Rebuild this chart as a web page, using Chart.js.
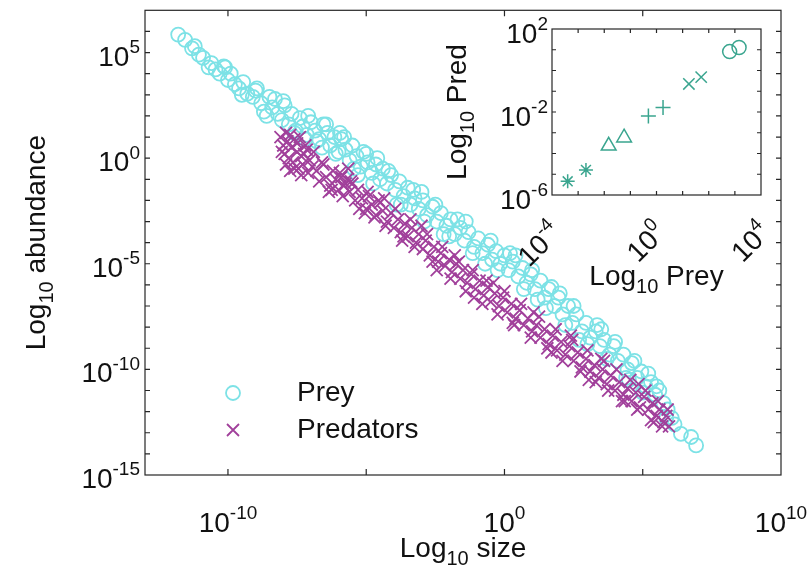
<!DOCTYPE html>
<html>
<head>
<meta charset="utf-8">
<script src="https://cdn.jsdelivr.net/npm/chart.js@4.4.1/dist/chart.umd.min.js"></script>
<style>
  body { margin: 0; background: #fff; }
  #wrap { position: relative; width: 812px; height: 573px; }
  #main { position: absolute; left: 0; top: 0; }
  #inset { position: absolute; left: 420px; top: 0; }
</style>
</head>
<body>
<div id="wrap">
  <canvas id="main" width="812" height="573"></canvas>
  <canvas id="inset" width="390" height="310"></canvas>
</div>
<script>
const FONT = '"Liberation Sans", Arial, Helvetica, sans-serif';
const AXIS = '#262626';
const PREY_COLOR = '#7de2e6';
const PRED_COLOR = '#a1409b';
const INSET_COLOR = '#3aa58f';

// main panel, log10 values
const preySizeExp = [
  -11.8, -11.55, -11.3, -11.05, -10.9, -10.6, -10.45, -10.3, -10.15, -10.0, -9.9, -9.75,
  -9.6, -9.45, -9.3, -9.1, -8.95, -8.8, -8.7, -8.5, -8.4, -8.2, -8.05, -7.95, -7.8, -7.7, -7.55,
  -7.4, -7.3, -7.15, -7.0, -6.85, -6.7, -6.55, -6.4, -6.3, -6.15, -6.0, -5.9, -5.75, -5.6, -5.5,
  -5.35, -5.2, -5.1, -4.95, -4.8, -4.65, -4.5, -4.4, -4.25, -4.1, -3.95, -3.8, -3.65, -3.5, -3.4,
  -3.25, -3.1, -2.95, -2.8, -2.6, -2.45, -2.3, -2.1, -1.95, -1.8, -1.6, -1.45, -1.3, -1.1, -0.95, -0.8, -0.6, -0.45, -0.3, -0.15,
  0.0, 0.15, 0.3, 0.5, 0.65, 0.8, 0.95, 1.1, 1.3, 1.45, 1.6, 1.8, 1.95, 2.1, 2.3, 2.45, 2.6, 2.8, 2.95, 3.1,
  3.3, 3.45, 3.6, 3.8, 3.95, 4.1, 4.3, 4.45, 4.6, 4.8, 4.95, 5.1, 5.3, 5.45, 5.6, 5.75, 5.9, 6.05,
  6.38, 6.75, 6.93,
  -8.0, -7.2, -6.6, -5.95, -5.3, -4.6, -3.9, -3.0, -2.2, -1.4, -0.7, 0.4, 1.2, 2.0, 2.7, 3.5, 4.4, 5.2,
  -11.2, -10.7, -10.1, -9.5, -9.0, -8.6, -8.3, -7.6, -7.1, -6.8, -6.45, -6.1, -5.8, -5.45, -5.0, -4.75,
  -4.2, -3.75, -3.3, -2.9, -2.5, -2.0, -1.7, -1.15, -0.5, -0.25, 0.2, 0.7, 1.0, 1.5, 1.7, 2.2, 2.5,
  3.0, 3.35, 3.7, 4.0, 4.5, 4.7, 5.0, 5.5, 5.85, 6.15
];
const preyAbundExp = [
  5.85, 5.6, 5.2, 4.9, 4.75, 4.5, 4.2, 4.0, 4.35, 3.7, 4.0, 3.5,
  3.3, 3.6, 3.05, 2.9, 3.3, 2.6, 2.2, 2.9, 2.4, 2.1, 1.8, 2.5, 1.6, 2.1, 1.3,
  1.9, 1.5, 1.1, 1.7, 1.3, 0.9, 1.6, 1.2, 0.6, 1.0, 0.3, 0.9, 0.4, -0.1, 0.6,
  0.1, -0.4, 0.3, -0.2, -0.7, -0.3, -1.0, -0.5, -1.2, -0.8, -1.5, -1.1, -1.8, -1.4, -2.2,
  -1.9, -2.4, -2.0, -2.7, -2.3, -3.0, -2.6, -3.2, -2.9, -3.6, -3.3, -3.9, -3.5, -4.2, -3.8, -4.5, -4.1, -4.8, -4.4, -5.0,
  -4.6, -5.3, -4.9, -5.6, -5.2, -5.9, -5.5, -6.2, -5.8, -6.6, -6.2, -7.0, -6.6, -7.4, -7.0, -7.8, -7.4, -8.2, -7.8, -8.5,
  -8.2, -8.9, -8.6, -9.3, -8.9, -9.6, -9.3, -10.0, -9.7, -10.4, -10.1, -10.8, -10.6, -11.2, -11.0, -11.6, -11.9, -12.3,
  -13.05, -13.2, -13.6,
  2.7, 0.9, 0.5, 1.2, -0.8, 0.0, -2.2, -1.6, -3.6, -3.0, -5.0, -4.6, -6.7, -6.4, -8.6, -8.1, -10.4, -10.2,
  5.3, 4.3, 4.3, 3.0, 3.2, 2.0, 2.8, 1.2, 2.0, 0.8, 1.6, 0.2, 1.0, -0.5, 0.2, -1.2,
  -0.6, -2.2, -1.5, -3.0, -2.2, -3.7, -2.9, -4.5, -3.9, -5.3, -4.5, -6.2, -5.3, -7.1, -6.1, -7.9, -7.0,
  -8.8, -7.9, -9.5, -8.7, -10.5, -9.6, -11.1, -10.8, -12.3, -12.6
];
const predSizeExp = [
  -8.1, -8.0, -7.95, -7.9, -7.85, -7.8, -7.7, -7.65, -7.6, -7.5, -7.45, -7.35, -7.3, -7.2, -7.1, -7.05, -6.95,
  -6.8, -6.7, -6.55, -6.45, -6.3, -6.2, -6.1, -6.0, -5.9, -5.8,
  -5.7, -5.6, -5.5, -5.4, -5.3, -5.15, -5.0, -4.9, -4.8, -4.65, -4.5, -4.4, -4.25, -4.1, -4.0, -3.85, -3.75,
  -3.6, -3.5, -3.35, -3.2, -3.1, -2.95, -2.85, -2.7, -2.55, -2.4, -2.3, -2.15, -2.0, -1.9, -1.75, -1.6, -1.5,
  -1.35, -1.2, -1.05, -0.9, -0.75, -0.6, -0.5, -0.35, -0.2, -0.05, 0.1, 0.25, 0.4, 0.55, 0.7,
  0.85, 1.0, 1.15, 1.3, 1.45, 1.6, 1.75, 1.9, 2.05, 2.2, 2.35, 2.5, 2.65, 2.8,
  2.95, 3.1, 3.25, 3.4, 3.55, 3.7, 3.85, 4.0, 4.15, 4.3, 4.45, 4.6, 4.75, 4.9,
  5.05, 5.2, 5.35, 5.5, 5.6, 5.75, 5.85, 5.95,
  -7.75, -7.4, -6.9, -6.35, -5.65, -5.05, -4.35, -3.7, -3.0, -2.45, -1.8, -1.1, -0.4, 0.3, 1.05, 1.7, 2.4, 3.05, 3.6, 4.25, 4.85, 5.4,
  -8.05, -7.9, -7.75, -7.6, -7.5, -7.35, -7.25, -7.15, -6.6, -6.25, -5.95, -5.85, -5.75, -5.55, -5.25, -4.95,
  -4.7, -4.55, -4.3, -3.95, -3.65, -3.4, -3.25, -2.8, -2.6, -2.25, -1.95, -1.65, -1.4, -1.15, -0.8, -0.65,
  -0.25, 0.0, 0.35, 0.6, 0.95, 1.25, 1.55, 1.85, 2.1, 2.45, 2.75, 3.0, 3.3, 3.5, 3.75, 4.05,
  4.35, 4.55, 4.8, 5.1, 5.3, 5.55, 5.7, 5.9
];
const predAbundExp = [
  1.0, 0.6, 0.2, 1.2, 0.8, 0.0, 0.5, -0.2, 0.9, 0.3, -0.5, 0.1, -0.3, 0.6, -0.7, -0.1, -0.4,
  -0.6, -1.1, -0.3, -0.9, -1.3, -0.6, -1.0, -1.5, -0.9, -1.3,
  -1.0, -1.6, -1.2, -2.0, -1.5, -1.9, -2.4, -1.8, -2.2, -2.7, -2.1, -2.5, -3.0, -2.6, -3.3, -2.9, -3.5,
  -3.1, -3.7, -3.3, -4.0, -3.6, -4.3, -3.9, -4.6, -4.2, -4.9, -4.5, -5.1, -4.8, -5.4, -5.0, -5.7, -5.3,
  -5.9, -5.5, -6.2, -5.8, -6.5, -6.1, -6.8, -6.4, -7.0, -6.6, -7.3, -6.9, -7.6, -7.2, -7.9,
  -7.6, -8.2, -7.9, -8.5, -8.1, -8.8, -8.4, -9.1, -8.7, -9.3, -8.9, -9.6, -9.2, -9.9,
  -9.5, -10.1, -9.8, -10.4, -10.0, -10.7, -10.3, -11.0, -10.6, -11.2, -10.9, -11.5, -11.1, -11.8,
  -11.3, -11.9, -11.6, -12.2, -11.9, -12.5, -12.2, -12.7,
  -0.6, 1.0, 0.3, -1.6, -0.5, -2.6, -1.9, -3.9, -3.2, -5.3, -4.6, -6.6, -5.9, -7.8, -7.3, -9.2, -8.4, -10.5, -9.6, -11.5, -10.7, -12.5,
  0.3, -0.3, 1.1, -0.5, 0.7, -0.8, 0.2, 0.4, -0.2, -1.5, -0.7, -1.8, -1.2, -1.1, -2.4, -1.6,
  -2.8, -2.0, -3.2, -2.4, -3.7, -2.9, -4.2, -3.6, -4.9, -4.2, -5.7, -4.9, -6.3, -5.3, -6.9, -5.8,
  -7.4, -6.3, -7.9, -6.9, -8.5, -7.5, -9.0, -8.1, -9.6, -8.6, -10.1, -9.1, -10.6, -9.5, -11.0, -10.0,
  -11.5, -10.5, -11.9, -11.0, -12.4, -11.5, -12.7, -11.9
];

// inset: five predator/prey pairs
const insetStyles = ['star', 'triangle', 'cross', 'crossRot', 'circle'];
const insetRadius = [7, 8.5, 7.5, 8, 7];
const insetPreyExp = [[-3.4, -2.7], [-1.83, -1.24], [-0.31, 0.25], [1.24, 1.71], [2.8, 3.16]];
const insetPredExp = [[-5.34, -4.79], [-3.63, -3.24], [-2.19, -1.78], [-0.65, -0.32], [0.91, 1.11]];

// tick labels (exponents of ten)
const mainXLabels = [-10, 0, 10];
const mainXTicks = [-10, -5, 0, 5];
const mainYLabels = [5, 0, -5, -10, -15];
const insetXLabels = [-4, 0, 4];
const insetYLabels = [2, -2, -6];

function toPoints(xs, ys) {
  return xs.map((e, i) => ({ x: Math.pow(10, e), y: Math.pow(10, ys[i]) }));
}

function drawPow(ctx, exp, x, y, align, size, supSize) {
  // "10" with raised exponent; y = middle of the "10"
  ctx.font = size + 'px ' + FONT;
  const wb = ctx.measureText('10').width;
  ctx.font = supSize + 'px ' + FONT;
  const we = ctx.measureText(String(exp)).width;
  const left = align === 'right' ? x - wb - we : x - (wb + we) / 2;
  const base = y + size * 0.36;
  ctx.textAlign = 'left';
  ctx.textBaseline = 'alphabetic';
  ctx.font = size + 'px ' + FONT;
  ctx.fillText('10', left, base);
  ctx.font = supSize + 'px ' + FONT;
  ctx.fillText(String(exp), left + wb, base - size * 0.45);
}

function drawSubTitle(ctx, pre, sub, post, cx, base, size, subSize) {
  ctx.font = size + 'px ' + FONT;
  const w1 = ctx.measureText(pre).width;
  const w3 = ctx.measureText(post).width;
  ctx.font = subSize + 'px ' + FONT;
  const w2 = ctx.measureText(sub).width;
  let left = cx - (w1 + w2 + w3) / 2;
  ctx.textAlign = 'left';
  ctx.textBaseline = 'alphabetic';
  ctx.font = size + 'px ' + FONT;
  ctx.fillText(pre, left, base);
  ctx.font = subSize + 'px ' + FONT;
  ctx.fillText(sub, left + w1, base + size * 0.3);
  ctx.font = size + 'px ' + FONT;
  ctx.fillText(post, left + w1 + w2, base);
}

function drawFrame(ctx, a) {
  ctx.strokeStyle = AXIS;
  ctx.lineWidth = 1.2;
  ctx.strokeRect(a.left, a.top, a.right - a.left, a.bottom - a.top);
}

const mainAxes = {
  id: 'mainAxes',
  afterDraw(chart) {
    const ctx = chart.ctx, a = chart.chartArea;
    const xs = chart.scales.x, ys = chart.scales.y;
    ctx.save();
    drawFrame(ctx, a);
    ctx.beginPath();
    for (let e = -14; e <= 6; e++) {
      const py = ys.getPixelForValue(Math.pow(10, e));
      ctx.moveTo(a.left, py); ctx.lineTo(a.left + 5, py);
      ctx.moveTo(a.right, py); ctx.lineTo(a.right - 5, py);
    }
    mainXTicks.forEach(e => {
      const px = xs.getPixelForValue(Math.pow(10, e));
      ctx.moveTo(px, a.bottom); ctx.lineTo(px, a.bottom - 6);
      ctx.moveTo(px, a.top); ctx.lineTo(px, a.top + 6);
    });
    ctx.stroke();

    ctx.fillStyle = '#111';
    mainYLabels.forEach(e => {
      drawPow(ctx, e, 140, ys.getPixelForValue(Math.pow(10, e)) + 3, 'right', 28, 19);
    });
    mainXLabels.forEach(e => {
      drawPow(ctx, e, xs.getPixelForValue(Math.pow(10, e)), 522, 'center', 28, 19);
    });
    drawSubTitle(ctx, 'Log', '10', ' size', (a.left + a.right) / 2, 557, 28, 20);
    ctx.save();
    ctx.translate(0, (a.top + a.bottom) / 2);
    ctx.rotate(-Math.PI / 2);
    drawSubTitle(ctx, 'Log', '10', ' abundance', 0, 45, 28, 20);
    ctx.restore();

    // legend
    ctx.lineWidth = 1.8;
    ctx.strokeStyle = PREY_COLOR;
    ctx.beginPath();
    ctx.arc(233, 393, 7, 0, Math.PI * 2);
    ctx.stroke();
    ctx.strokeStyle = PRED_COLOR;
    ctx.beginPath();
    ctx.moveTo(227, 424); ctx.lineTo(239, 436);
    ctx.moveTo(239, 424); ctx.lineTo(227, 436);
    ctx.stroke();
    ctx.fillStyle = '#111';
    ctx.font = '28px ' + FONT;
    ctx.textAlign = 'left';
    ctx.textBaseline = 'middle';
    ctx.fillText('Prey', 297, 393);
    ctx.fillText('Predators', 297, 430);
    ctx.restore();
  }
};

new Chart(document.getElementById('main'), {
  type: 'scatter',
  data: {
    datasets: [{
      label: 'Predators',
      data: toPoints(predSizeExp, predAbundExp),
      pointStyle: 'crossRot',
      pointRadius: 8.5,
      borderColor: PRED_COLOR,
      backgroundColor: PRED_COLOR,
      pointBorderWidth: 1.8,
      order: 0
    }, {
      label: 'Prey',
      data: toPoints(preySizeExp, preyAbundExp),
      pointStyle: 'circle',
      pointRadius: 7,
      borderColor: PREY_COLOR,
      backgroundColor: 'rgba(0,0,0,0)',
      pointBorderWidth: 1.8,
      order: 1
    }]
  },
  options: {
    responsive: false,
    animation: false,
    devicePixelRatio: 1,
    layout: { padding: { top: 5, right: 31, left: 0, bottom: 0 } },
    plugins: { legend: { display: false }, tooltip: { enabled: false } },
    scales: {
      x: {
        type: 'logarithmic', min: 1e-13, max: 1e10,
        ticks: { display: false }, grid: { display: false }, border: { display: false },
        afterFit(s) { s.height = 98; }
      },
      y: {
        type: 'logarithmic', min: 1e-15, max: 1e7,
        ticks: { display: false }, grid: { display: false }, border: { display: false },
        afterFit(s) { s.width = 145; }
      }
    }
  },
  plugins: [mainAxes]
});

const insetAxes = {
  id: 'insetAxes',
  afterDraw(chart) {
    const ctx = chart.ctx, a = chart.chartArea;
    const xs = chart.scales.x, ys = chart.scales.y;
    ctx.save();
    drawFrame(ctx, a);
    ctx.beginPath();
    for (let e = -3; e <= 3; e++) {
      const px = xs.getPixelForValue(Math.pow(10, e));
      ctx.moveTo(px, a.bottom); ctx.lineTo(px, a.bottom - 4);
      ctx.moveTo(px, a.top); ctx.lineTo(px, a.top + 4);
    }
    for (let e = -5; e <= 1; e++) {
      const py = ys.getPixelForValue(Math.pow(10, e));
      ctx.moveTo(a.left, py); ctx.lineTo(a.left + 4, py);
      ctx.moveTo(a.right, py); ctx.lineTo(a.right - 4, py);
    }
    ctx.stroke();

    ctx.fillStyle = '#111';
    insetYLabels.forEach(e => {
      drawPow(ctx, e, a.left - 4, ys.getPixelForValue(Math.pow(10, e)) + 4, 'right', 28, 19);
    });
    insetXLabels.forEach(e => {
      const px = xs.getPixelForValue(Math.pow(10, e));
      ctx.save();
      ctx.translate(px + 4, a.bottom + 32);
      ctx.rotate(-Math.PI / 4);
      drawPow(ctx, e, 0, 0, 'right', 28, 19);
      ctx.restore();
    });
    drawSubTitle(ctx, 'Log', '10', ' Prey', (a.left + a.right) / 2, 285, 28, 20);
    ctx.save();
    ctx.translate(0, (a.top + a.bottom) / 2);
    ctx.rotate(-Math.PI / 2);
    drawSubTitle(ctx, 'Log', '10', ' Pred', 0, 46, 28, 20);
    ctx.restore();
    ctx.restore();
  }
};

new Chart(document.getElementById('inset'), {
  type: 'scatter',
  data: {
    datasets: insetStyles.map((st, i) => ({
      label: st,
      data: toPoints(insetPreyExp[i], insetPredExp[i]),
      pointStyle: st,
      pointRadius: insetRadius[i],
      borderColor: INSET_COLOR,
      backgroundColor: 'rgba(0,0,0,0)',
      pointBorderWidth: 1.5
    }))
  },
  options: {
    responsive: false,
    animation: false,
    devicePixelRatio: 1,
    layout: { padding: { top: 29, right: 49, left: 0, bottom: 0 } },
    plugins: { legend: { display: false }, tooltip: { enabled: false } },
    scales: {
      x: {
        type: 'logarithmic', min: 1e-4, max: 1e4,
        ticks: { display: false }, grid: { display: false }, border: { display: false },
        afterFit(s) { s.height = 115; }
      },
      y: {
        type: 'logarithmic', min: 1e-6, max: 1e2,
        ticks: { display: false }, grid: { display: false }, border: { display: false },
        afterFit(s) { s.width = 132; }
      }
    }
  },
  plugins: [insetAxes]
});
</script>
</body>
</html>
